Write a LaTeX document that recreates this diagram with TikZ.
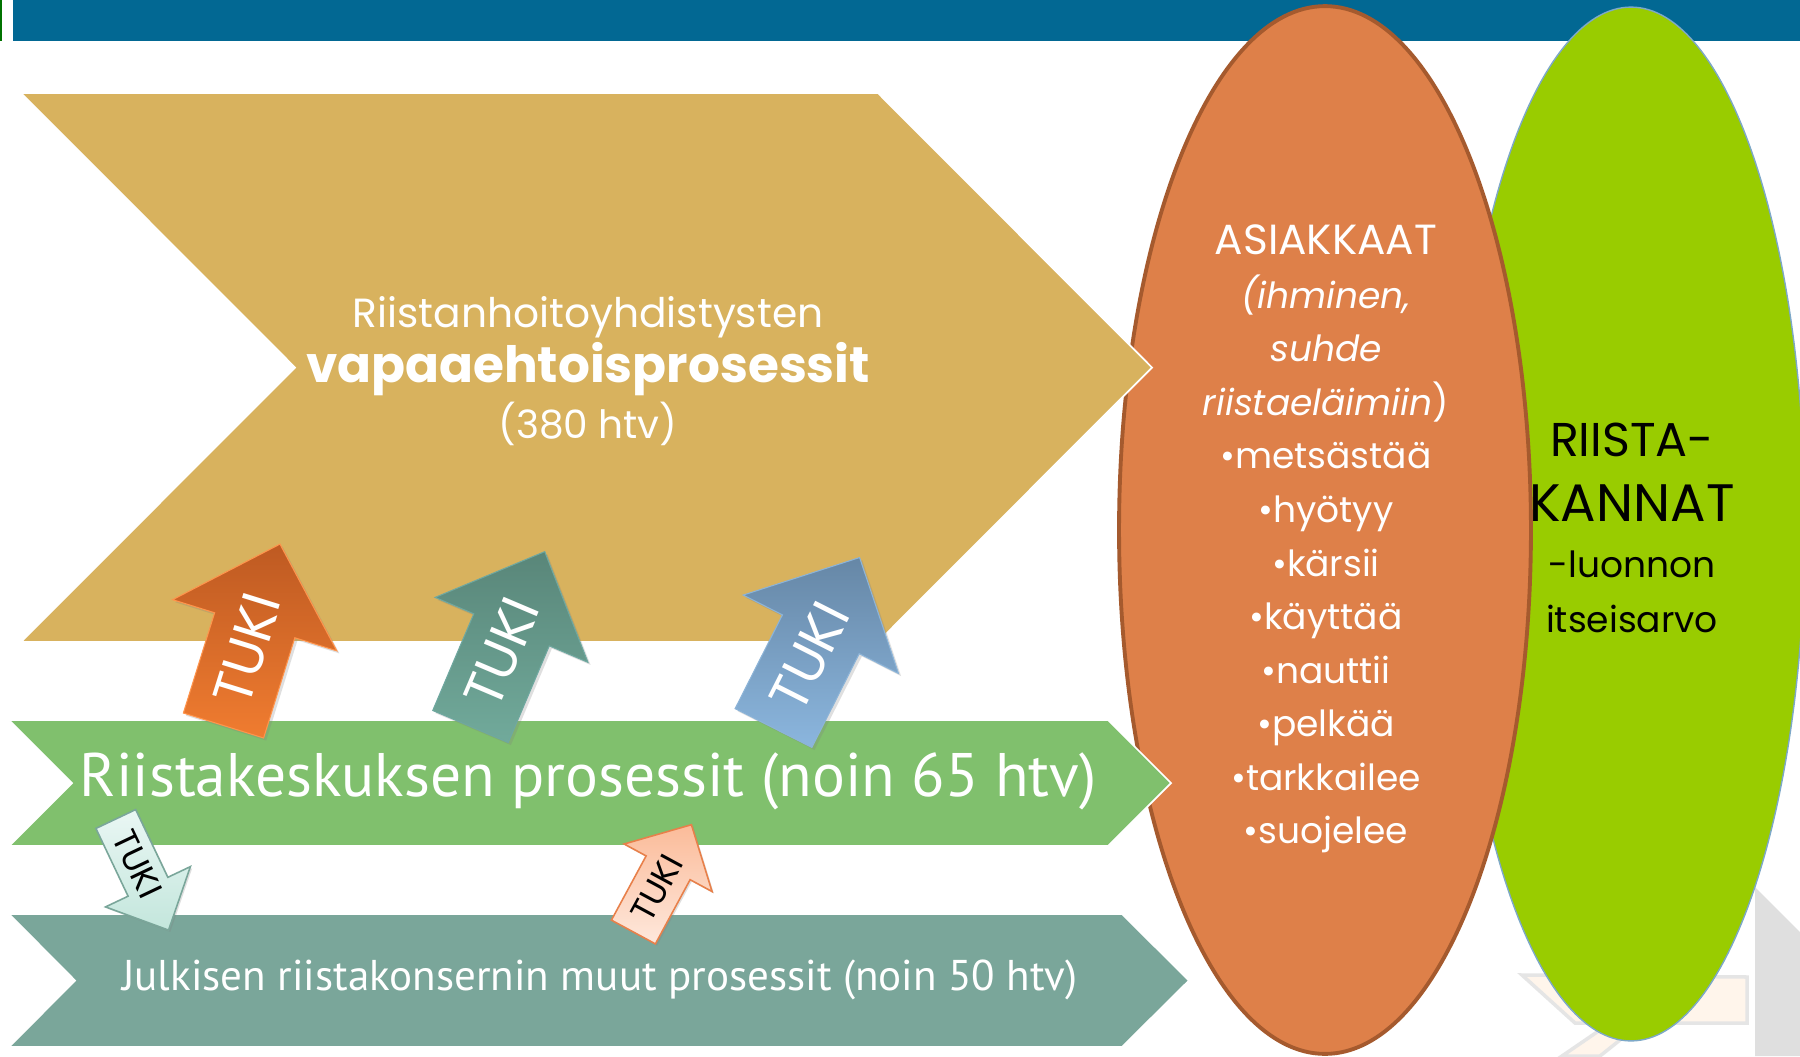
\documentclass[tikz,border=0pt]{standalone}
\usepackage{fontspec}
\setmainfont{Poppins}
\newfontfamily\bandfont{PT Sans}
\usepackage{tikz}
\usetikzlibrary{shapes.geometric,positioning,calc,shadows}

\definecolor{topbar}{RGB}{2,104,147}
\definecolor{gold}{RGB}{216,178,94}
\definecolor{keskus}{RGB}{128,192,109}
\definecolor{konserni}{RGB}{122,166,154}
\definecolor{asiakas}{RGB}{222,128,73}
\definecolor{asiakasline}{RGB}{165,90,46}
\definecolor{riista}{RGB}{153,204,0}
\definecolor{riistaline}{RGB}{125,168,200}

\begin{document}
\begin{tikzpicture}[
    x=0.02cm, y=-0.02cm,
    band/.style={draw=white, line width=1pt},
    oval/.style={ellipse, inner sep=0pt},
    bigtuki/.style={line width=0.6pt, drop shadow={opacity=0.25, shadow xshift=1.5pt, shadow yshift=-1.5pt}},
    smalltuki/.style={line width=0.9pt, drop shadow={opacity=0.25, shadow xshift=1pt, shadow yshift=-1pt}},
    tukitext/.style={font=\fontsize{31}{31}\selectfont, text=white, inner sep=0pt},
    smalltext/.style={font=\fontsize{19.5}{19.5}\selectfont, text=black, inner sep=0pt},
    label/.style={text=white, align=center, inner sep=0pt},
]
\useasboundingbox[fill=white] (0,0) rectangle (1800,1056);

% header bar
\fill[green!45!black] (0,0) rectangle (2,41);
\fill[topbar] (13,0) rectangle (1800,41);

% faint logo in the corner
\fill[gray!25] (1755,887) -- (1800,932) -- (1800,1056) -- (1755,1056) -- cycle;
\filldraw[fill=orange!8, draw=gray!20, line width=2pt] (1522,975) -- (1747,977) -- (1747,1023) -- (1575,1023) -- cycle;
\filldraw[fill=orange!8, draw=gray!20, line width=2pt] (1562,1056) -- (1600,1030) -- (1625,1036) -- (1600,1056) -- cycle;

% ellipses
\node[oval, fill=riista, draw=riistaline, line width=0.8pt, minimum width=6.96cm, minimum height=20.68cm] (kannat) at (1631,524) {};
\node[oval, fill=asiakas, draw=asiakasline, line width=2.2pt, minimum width=8.24cm, minimum height=20.96cm] (asiakkaat) at (1325,530) {};

% process chevrons
\fill[gold, band] (21,93) -- (878,93) -- (1152,367.5) -- (878,642) -- (21,642) -- (295,367.5) -- cycle;
\fill[keskus, band] (9,720) -- (1108,720) -- (1171,783) -- (1108,846) -- (9,846) -- (72,783) -- cycle;
\fill[konserni, band] (9,914) -- (1122,914) -- (1189,980.5) -- (1122,1047) -- (9,1047) -- (75,980.5) -- cycle;

% texts
\node[label, font=\fontsize{23.2}{31.6}\selectfont] (rhy) at (588,371)
    {Riistanhoitoyhdistysten\\{\fontsize{28.5}{31.6}\selectfont\bfseries vapaaehtoisprosessit}\\{\fontsize{22.2}{31.6}\selectfont(380 htv)}};
\node[label, font=\bandfont\fontsize{35}{35}\selectfont] (rk) at (588,781) {Riistakeskuksen prosessit (noin 65 htv)};
\node[label, font=\bandfont\fontsize{24.5}{24.5}\selectfont] (jrk) at (600,980) {Julkisen riistakonsernin muut prosessit (noin 50 htv)};

\node[label, font=\fontsize{20.5}{30.5}\selectfont] (asiakt) at (1326,539)
    {{\fontsize{24}{30.5}\selectfont ASIAKKAAT}\\\textit{(ihminen,}\\\textit{suhde}\\\textit{riistaeläimiin})\\•metsästää\\•hyötyy\\•kärsii\\•käyttää\\•nauttii\\•pelkää\\•tarkkailee\\•suojelee};

\node[align=center, inner sep=0pt, font=\fontsize{27}{37}\selectfont] (riistat) at (1632,472) {RIISTA-\\{\fontsize{30}{37}\selectfont KANNAT}};
\node[align=center, inner sep=0pt, font=\fontsize{20.5}{31}\selectfont] (luonto) at (1632,592) {-luonnon\\itseisarvo};

% TUKI arrows
\begin{scope}[shift={(223.5,725.5)}, rotate=72.7]
\shade[bigtuki, draw=orange!80!red!70, top color={rgb,255:red,190;green,90;blue,34}, bottom color={rgb,255:red,240;green,124;blue,48}]
    (0,-42) -- (105,-42) -- (105,-86) -- (190,0) -- (105,86) -- (105,42) -- (0,42) -- cycle;
\node[tukitext, rotate=72.7] (tuki1) at (80,0) {TUKI};
\end{scope}

\begin{scope}[shift={(470.5,726.5)}, rotate=67]
\shade[bigtuki, draw={rgb,255:red,111;green,168;blue,160}, top color={rgb,255:red,89;green,134;blue,121}, bottom color={rgb,255:red,113;green,170;blue,155}]
    (0,-41) -- (105,-41) -- (105,-83) -- (190,0) -- (105,83) -- (105,41) -- (0,41) -- cycle;
\node[tukitext, rotate=67] (tuki2) at (80,0) {TUKI};
\end{scope}

\begin{scope}[shift={(773.5,728)}, rotate=63.2]
\shade[bigtuki, draw={rgb,255:red,140;green,180;blue,216}, top color={rgb,255:red,102;green,135;blue,166}, bottom color={rgb,255:red,139;green,182;blue,222}]
    (0,-43) -- (105,-43) -- (105,-87) -- (191,0) -- (105,87) -- (105,43) -- (0,43) -- cycle;
\node[tukitext, rotate=63.2] (tuki3) at (80,0) {TUKI};
\end{scope}

\begin{scope}[shift={(115.8,819)}, rotate=-64.6]
\shade[smalltuki, draw=konserni, top color={rgb,255:red,234;green,247;blue,244}, bottom color={rgb,255:red,195;green,230;blue,220}]
    (0,-22) -- (75,-22) -- (75,-47) -- (123,0) -- (75,47) -- (75,22) -- (0,22) -- cycle;
\node[smalltext, rotate=-64.6] (tuki4) at (50,0) {TUKI};
\end{scope}

\begin{scope}[shift={(633.4,932)}, rotate=61.6]
\shade[smalltuki, draw={rgb,255:red,232;green,128;blue,74}, top color={rgb,255:red,251;green,187;blue,153}, bottom color={rgb,255:red,254;green,232;blue,220}]
    (0,-25) -- (73,-25) -- (73,-50) -- (122,0) -- (73,50) -- (73,25) -- (0,25) -- cycle;
\node[smalltext, rotate=61.6] (tuki5) at (50,0) {TUKI};
\end{scope}

\end{tikzpicture}
\end{document}
